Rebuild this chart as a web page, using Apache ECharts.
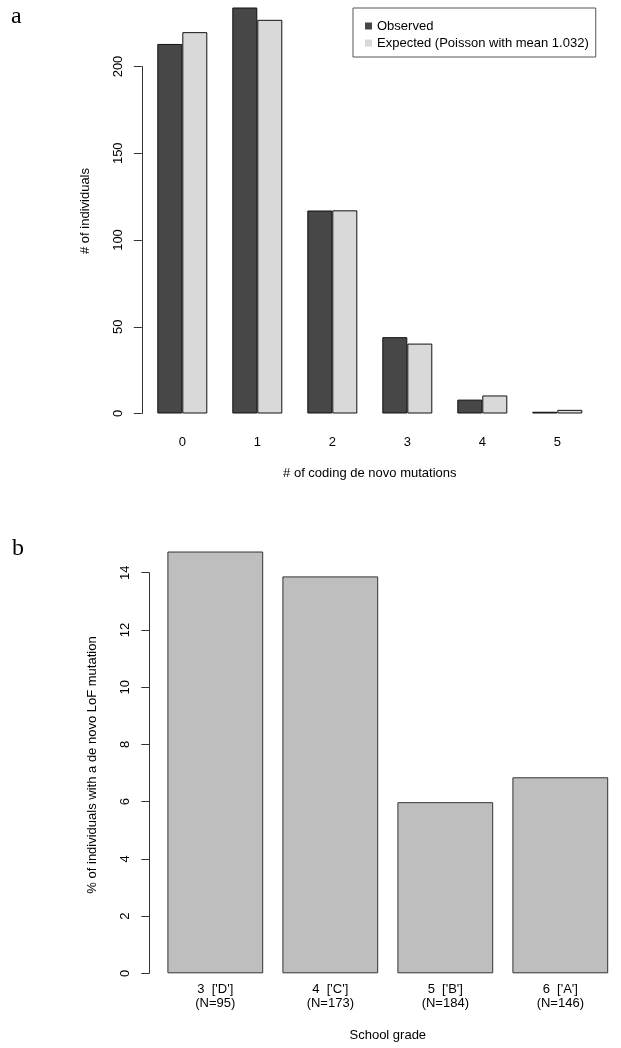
<!DOCTYPE html>
<html>
<head>
<meta charset="utf-8">
<script src="https://cdn.jsdelivr.net/npm/echarts@6/dist/echarts.min.js"></script>
<style>
  html, body { margin: 0; padding: 0; background: #fff; }
  #chart { width: 621px; height: 1048px; }
</style>
</head>
<body>
<div id="chart"></div>
<script>
// panel a: coding de novo mutations per individual
const mutationCounts = ['0', '1', '2', '3', '4', '5'];
const observed = [213, 234, 117, 44, 8, 1];
const expected = [219.8, 226.9, 117.1, 40.3, 10.4, 2.1];

// panel b: % with a de novo LoF mutation by school grade
const gradeLabels = ["3  ['D']\n(N=95)", "4  ['C']\n(N=173)", "5  ['B']\n(N=184)", "6  ['A']\n(N=146)"];
const lofPercent = [14.74, 13.87, 5.98, 6.85];

const font = '"Liberation Sans", Arial, sans-serif';
const axisCol = '#333';

const chart = echarts.init(document.getElementById('chart'), null, { renderer: 'canvas' });

const hiddenAxis = {
    type: 'value', min: 0, max: 1,
    axisLine: { show: false }, axisTick: { show: false },
    axisLabel: { show: false }, splitLine: { show: false }
};

chart.setOption({
    backgroundColor: '#fff',
    animation: false,
    textStyle: { fontFamily: font },
    title: [
        { text: 'a', left: 6, top: 0, textStyle: { fontFamily: '"Liberation Serif", "DejaVu Serif", serif', fontSize: 24, fontWeight: 'normal', color: '#000' } },
        { text: 'b', left: 7, top: 532, textStyle: { fontFamily: '"Liberation Serif", "DejaVu Serif", serif', fontSize: 24, fontWeight: 'normal', color: '#000' } }
    ],
    legend: {
        data: ['Observed', 'Expected (Poisson with mean 1.032)'],
        orient: 'vertical',
        left: 353,
        top: 8,
        padding: [11, 7, 7, 12],
        itemGap: 3,
        itemWidth: 7,
        itemHeight: 7,
        icon: 'rect',
        itemStyle: { borderWidth: 0 },
        borderColor: '#555',
        borderWidth: 1,
        textStyle: { fontSize: 13, color: '#000', lineHeight: 14, fontFamily: font }
    },
    grid: [
        { left: 144.8, top: 66.5, width: 450, height: 347 },
        { left: 144.8, top: 11, width: 450, height: 400 },
        { left: 157.8, top: 572.7, width: 460, height: 400.6 },
        { left: 157.8, top: 565, width: 460, height: 400 }
    ],
    xAxis: [
        {
            gridIndex: 0,
            type: 'category',
            data: mutationCounts,
            axisLine: { show: false },
            axisTick: { show: false },
            axisLabel: { margin: 22, fontSize: 13, color: '#000' },
            name: '# of coding de novo mutations',
            nameLocation: 'middle',
            nameGap: 53,
            nameTextStyle: { fontSize: 13, color: '#000' }
        },
        Object.assign({ gridIndex: 1, show: false }, hiddenAxis),
        {
            gridIndex: 2,
            type: 'category',
            data: gradeLabels,
            axisLine: { show: false },
            axisTick: { show: false },
            axisLabel: { margin: 9, fontSize: 13, color: '#000', lineHeight: 14 },
            name: 'School grade',
            nameLocation: 'middle',
            nameGap: 56,
            nameTextStyle: { fontSize: 13, color: '#000' }
        },
        Object.assign({ gridIndex: 3, show: false }, hiddenAxis)
    ],
    yAxis: [
        {
            gridIndex: 0,
            type: 'value',
            min: 0, max: 200, interval: 50,
            offset: 3,
            axisLine: { show: true, lineStyle: { color: axisCol, width: 1 } },
            axisTick: { show: true, length: 8, lineStyle: { color: axisCol } },
            axisLabel: { rotate: 90, margin: 17, fontSize: 13, color: '#000' },
            splitLine: { show: false }
        },
        Object.assign({}, hiddenAxis, {
            gridIndex: 1,
            offset: 3,
            name: '# of individuals',
            nameLocation: 'middle',
            nameGap: 50,
            nameTextStyle: { fontSize: 13, color: '#000' }
        }),
        {
            gridIndex: 2,
            type: 'value',
            min: 0, max: 14, interval: 2,
            offset: 8.5,
            axisLine: { show: true, lineStyle: { color: axisCol, width: 1 } },
            axisTick: { show: true, length: 8, lineStyle: { color: axisCol } },
            axisLabel: { rotate: 90, margin: 17, fontSize: 13, color: '#000' },
            splitLine: { show: false }
        },
        Object.assign({}, hiddenAxis, {
            gridIndex: 3,
            offset: 8.5,
            name: '% of individuals with a de novo LoF mutation',
            nameLocation: 'middle',
            nameGap: 50,
            nameTextStyle: { fontSize: 13, color: '#000' }
        })
    ],
    series: [
        {
            name: 'Observed',
            type: 'bar',
            xAxisIndex: 0, yAxisIndex: 0,
            data: observed,
            clip: false,
            barGap: '0%',
            barCategoryGap: '33.33%',
            itemStyle: { color: '#474747', borderColor: '#111', borderWidth: 1 }
        },
        {
            name: 'Expected (Poisson with mean 1.032)',
            type: 'bar',
            xAxisIndex: 0, yAxisIndex: 0,
            data: expected,
            clip: false,
            barGap: '0%',
            barCategoryGap: '33.33%',
            itemStyle: { color: '#d9d9d9', borderColor: '#111', borderWidth: 1 }
        },
        {
            name: 'LoF',
            type: 'bar',
            xAxisIndex: 2, yAxisIndex: 2,
            data: lofPercent,
            clip: false,
            barWidth: '83.3%',
            itemStyle: { color: '#bebebe', borderColor: '#333', borderWidth: 1 }
        }
    ]
});
</script>
</body>
</html>
